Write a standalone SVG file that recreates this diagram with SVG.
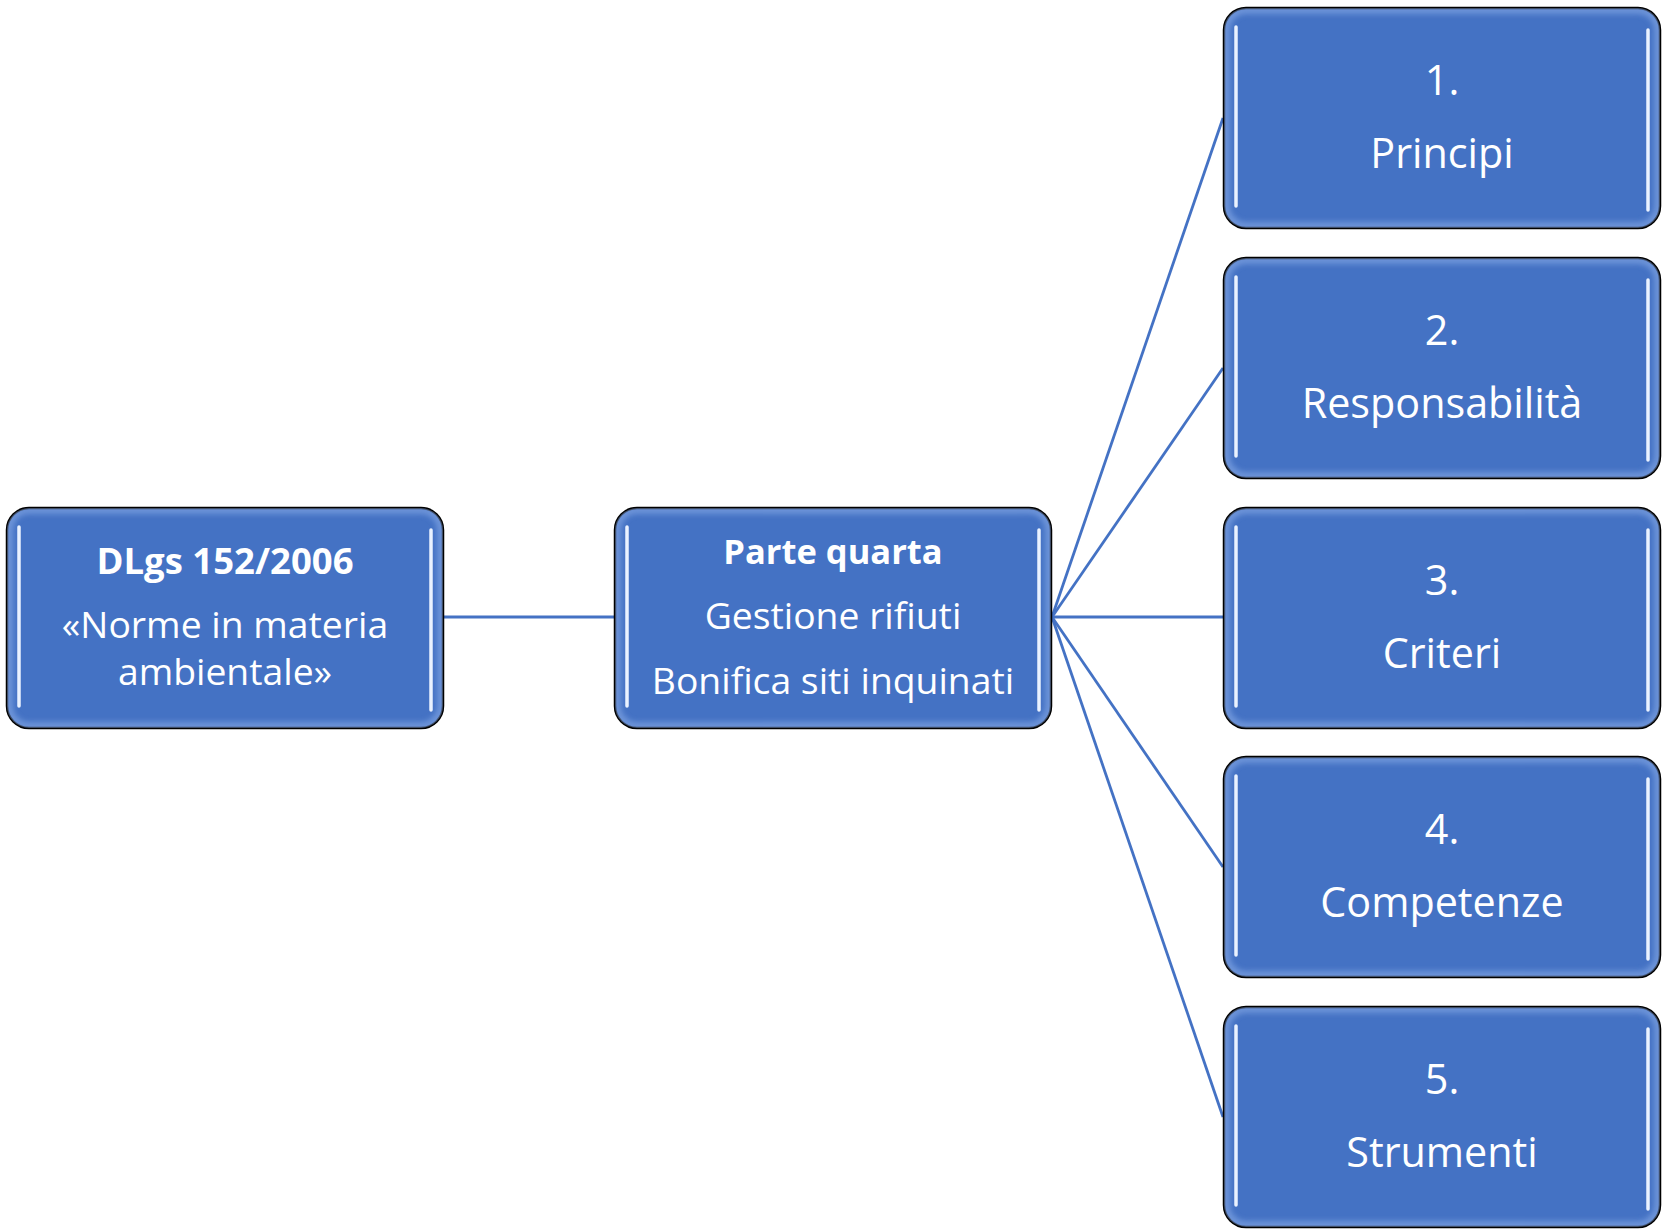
<svg xmlns="http://www.w3.org/2000/svg" width="1665" height="1232" viewBox="0 0 1665 1232">
  <style>
    .box { fill: #4472C4; stroke: #000; stroke-width: 2.5; }
    .rim { fill: none; stroke: #8FB0EA; stroke-width: 6; opacity: 0.75; }
    .bar { stroke: #EAF2FF; stroke-width: 3.5; stroke-linecap: round; }
    .barglow { stroke: #9FC0F5; stroke-width: 10; stroke-linecap: round; opacity: 0.85; }
    .link { stroke: #4472C4; stroke-width: 2.8; fill: none; }
    text { font-family: "Open Sans", "Noto Sans", "Liberation Sans", sans-serif; fill: #fff; text-anchor: middle; }
    .b1 { font-weight: bold; font-size: 36.5px; }
    .b2 { font-weight: bold; font-size: 34.5px; }
    .m { font-size: 37.3px; }
    .r { font-size: 41.3px; }
  </style>
  <defs>
    <filter id="soft" x="-20%" y="-20%" width="140%" height="140%">
      <feGaussianBlur stdDeviation="3"/>
    </filter>
    <filter id="glow" x="-50%" y="-10%" width="200%" height="120%">
      <feGaussianBlur stdDeviation="2"/>
    </filter>
    <clipPath id="boxclip" clipPathUnits="userSpaceOnUse">
      <rect x="0" y="0" width="436" height="220" rx="22" ry="22"/>
    </clipPath>
    <!-- shared glossy card: body, blurred inner rim, two vertical highlight bars -->
    <g id="card">
      <rect class="box" x="0" y="0" width="436" height="220" rx="22" ry="22"/>
      <g clip-path="url(#boxclip)">
        <rect class="rim" x="2" y="2" width="432" height="216" rx="20" ry="20" filter="url(#soft)"/>
      </g>
      <line class="barglow" x1="12" y1="19" x2="12" y2="198" filter="url(#glow)"/>
      <line class="barglow" x1="424" y1="22" x2="424" y2="202" filter="url(#glow)"/>
      <line class="bar" x1="12" y1="19" x2="12" y2="198"/>
      <line class="bar" x1="424" y1="22" x2="424" y2="202"/>
    </g>
  </defs>

  <g id="connectors">
    <line class="link" x1="443" y1="617" x2="614" y2="617"/>
    <line class="link" x1="1052" y1="617" x2="1223" y2="118"/>
    <line class="link" x1="1052" y1="617" x2="1223" y2="368"/>
    <line class="link" x1="1052" y1="617" x2="1223" y2="617"/>
    <line class="link" x1="1052" y1="617" x2="1223" y2="867"/>
    <line class="link" x1="1052" y1="617" x2="1223" y2="1117"/>
  </g>

  <g id="node-dlgs" transform="translate(7,508)">
    <use href="#card"/>
    <text class="b1" x="218" y="66">DLgs 152/2006</text>
    <text class="m" x="218" y="130">«Norme in materia</text>
    <text class="m" x="218" y="177">ambientale»</text>
  </g>

  <g id="node-parte-quarta" transform="translate(615,508)">
    <use href="#card"/>
    <text class="b2" x="218" y="56">Parte quarta</text>
    <text class="m" x="218" y="121">Gestione rifiuti</text>
    <text class="m" x="218" y="186">Bonifica siti inquinati</text>
  </g>

  <g id="node-principi" transform="translate(1224,8)">
    <use href="#card"/>
    <text class="r" x="218" y="87">1.</text>
    <text class="r" x="218" y="160">Principi</text>
  </g>

  <g id="node-responsabilita" transform="translate(1224,258)">
    <use href="#card"/>
    <text class="r" x="218" y="87">2.</text>
    <text class="r" x="218" y="160">Responsabilità</text>
  </g>

  <g id="node-criteri" transform="translate(1224,508)">
    <use href="#card"/>
    <text class="r" x="218" y="87">3.</text>
    <text class="r" x="218" y="160">Criteri</text>
  </g>

  <g id="node-competenze" transform="translate(1224,757)">
    <use href="#card"/>
    <text class="r" x="218" y="87">4.</text>
    <text class="r" x="218" y="160">Competenze</text>
  </g>

  <g id="node-strumenti" transform="translate(1224,1007)">
    <use href="#card"/>
    <text class="r" x="218" y="87">5.</text>
    <text class="r" x="218" y="160">Strumenti</text>
  </g>
</svg>
